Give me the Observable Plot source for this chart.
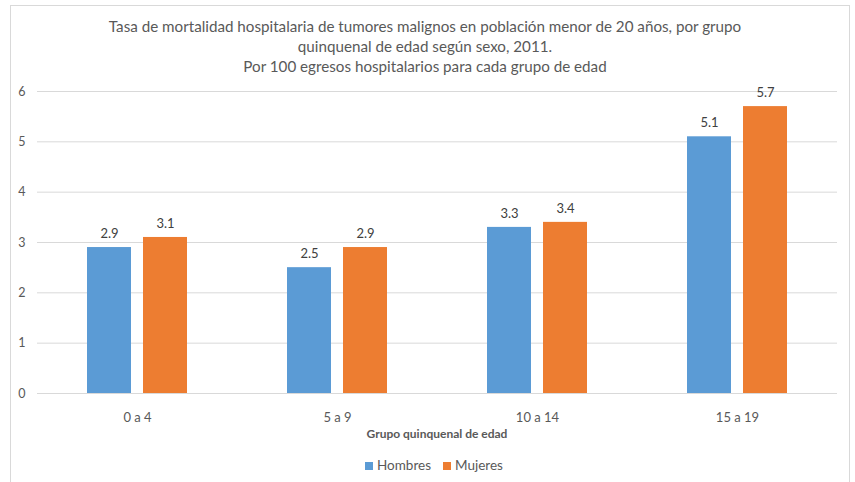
<!DOCTYPE html>
<html>
<head>
<meta charset="utf-8">
<script src="https://cdn.jsdelivr.net/npm/d3@7"></script>
<script src="https://cdn.jsdelivr.net/npm/@observablehq/plot@0.6"></script>
<style>
  html, body { margin: 0; padding: 0; background: #fff; }
  body { width: 855px; height: 482px; position: relative; overflow: hidden; font-family: Lato, "Open Sans", sans-serif; }
  #frame { position: absolute; left: 10px; top: 5px; width: 840px; height: 490px; border: 1.5px solid #d9d9d9; box-sizing: border-box; }
  #title { position: absolute; left: 0; top: 16px; width: 850px; text-align: center; font-size: 15.2px; line-height: 20px; color: #595959; }
  #chart { position: absolute; left: 0; top: 80px; }
  #xtitle { position: absolute; left: 37px; width: 800px; top: 426px; text-align: center; font-size: 12px; font-weight: bold; color: #595959; }
  #legend { position: absolute; left: 34px; width: 800px; top: 457px; text-align: center; font-size: 13.5px; color: #595959; }
  #legend span.sw { display: inline-block; width: 8px; height: 8px; margin-right: 4px; vertical-align: 0px; }
  #legend span.item { margin: 0 6px; }
</style>
</head>
<body>
<div id="frame"></div>
<div id="title">Tasa de mortalidad hospitalaria de tumores malignos en población menor de 20 años, por grupo<br>quinquenal de edad según sexo, 2011.<br>Por 100 egresos hospitalarios para cada grupo de edad</div>
<div id="chart"></div>
<div id="xtitle">Grupo quinquenal de edad</div>
<div id="legend"></div>
<script>
const categories = ["0 a 4", "5 a 9", "10 a 14", "15 a 19"];
const series = ["Hombres", "Mujeres"];
const hombres = [2.9, 2.5, 3.3, 5.1];
const mujeres = [3.1, 2.9, 3.4, 5.7];
const colors = ["#5B9BD5", "#ED7D31"];
const yTicks = [0, 1, 2, 3, 4, 5, 6];

const data = [];
categories.forEach((c, i) => {
  data.push({grupo: c, sexo: series[0], valor: hombres[i]});
  data.push({grupo: c, sexo: series[1], valor: mujeres[i]});
});

const chart = Plot.plot({
  width: 855,
  height: 345,
  marginLeft: 37,
  marginRight: 18,
  marginTop: 11,
  marginBottom: 32,
  style: {fontFamily: "Lato, 'Open Sans', sans-serif", fontSize: "12px", color: "#595959", background: "transparent"},
  fx: {domain: categories, padding: 0, label: null},
  x: {domain: series, paddingInner: 0.21, paddingOuter: 0.86, axis: null},
  y: {domain: [0, 6], label: null},
  color: {domain: series, range: colors},
  marks: [
    Plot.gridY(yTicks, {stroke: "#d9d9d9", strokeOpacity: 1, strokeWidth: 1}),
    Plot.ruleY([0], {stroke: "#d9d9d9"}),
    Plot.axisY(yTicks, {tickSize: 0, tickPadding: 12, fontSize: 12.5, fill: "#595959", tickFormat: d3.format("d"), label: null}),
    Plot.axisFx({anchor: "bottom", tickSize: 0, tickPadding: 19, fontSize: 13, fill: "#595959", label: null}),
    Plot.barY(data, {fx: "grupo", x: "sexo", y: "valor", fill: "sexo"}),
    Plot.text(data, {fx: "grupo", x: "sexo", y: "valor", text: d => d.valor.toFixed(1), dy: -14, fill: "#404040", fontSize: 13})
  ]
});
document.getElementById("chart").appendChild(chart);

const legend = document.getElementById("legend");
series.forEach((s, i) => {
  const item = document.createElement("span");
  item.className = "item";
  item.innerHTML = `<span class="sw" style="background:${colors[i]}"></span>${s}`;
  legend.appendChild(item);
});
</script>
</body>
</html>
